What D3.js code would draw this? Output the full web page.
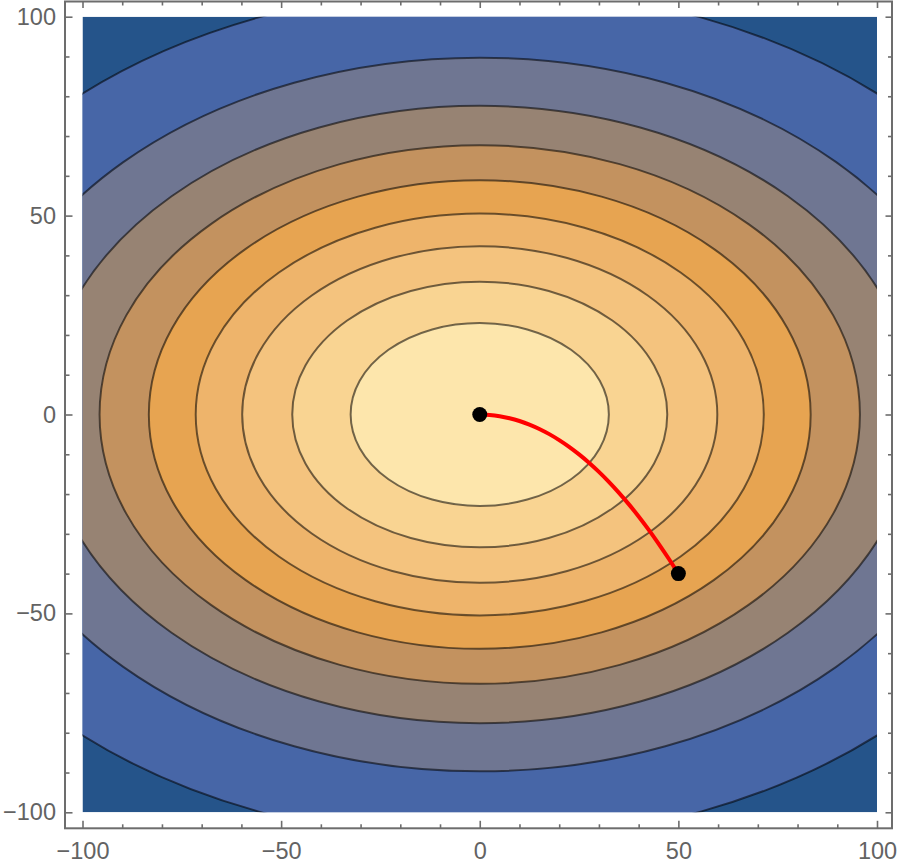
<!DOCTYPE html>
<html><head><meta charset="utf-8">
<script src="https://cdn.jsdelivr.net/npm/d3@7"></script>
<style>body{margin:0;background:#fff} svg{display:block}</style>
</head><body>
<svg id="c" width="900" height="868"></svg>
<script>
// Contour levels (values of the field), outermost first
const contourLevels = [0.1, 0.2, 0.3, 0.4, 0.5, 0.6, 0.7, 0.8, 0.9];
// Semi-axes (data units) of each elliptical contour
const semiAxisX = [151.7, 126.9, 109.7, 95.7, 83.3, 71.5, 59.8, 47.2, 32.5];
const semiAxisY = [107.3, 89.7, 77.6, 67.7, 58.9, 50.5, 42.3, 33.4, 23.0];
// Band fill colors, lowest band first
const bandColors = ["#25548a", "#4766a7", "#6f7692", "#978373", "#c3925f",
                    "#e7a451", "#eeb46b", "#f4c37e", "#f9d492", "#fde6ac"];
// Red gradient path
const pathX = [50, 47.5, 45, 42.5, 40, 37.5, 35, 32.5, 30, 27.5, 25, 22.5, 20, 17.5, 15, 12.5, 10, 7.5, 5, 2.5, 0];
const pathY = [-40, -36.1, -32.4, -28.9, -25.6, -22.5, -19.6, -16.9, -14.4, -12.1, -10, -8.1, -6.4, -4.9, -3.6, -2.5, -1.6, -0.9, -0.4, -0.1, 0];
// End points
const pointX = [0, 50];
const pointY = [0, -40];
// Ticks
const majorTicks = [-100, -50, 0, 50, 100];
const minorTicks = [-90,-80,-70,-60,-40,-30,-20,-10,10,20,30,40,60,70,80,90];
const xDomain = [-100, 100];
const yDomain = [-100, 100];

const svg = d3.select("#c");
const x = d3.scaleLinear().domain(xDomain).range([82.5, 877]);
const y = d3.scaleLinear().domain(yDomain).range([812.3, 16.7]);

svg.append("defs").append("clipPath").attr("id", "plotclip")
  .append("rect")
  .attr("x", x(xDomain[0])).attr("y", y(yDomain[1]))
  .attr("width", x(xDomain[1]) - x(xDomain[0]))
  .attr("height", y(yDomain[0]) - y(yDomain[1]));

const g = svg.append("g").attr("clip-path", "url(#plotclip)");
g.append("rect")
  .attr("x", x(xDomain[0])).attr("y", y(yDomain[1]))
  .attr("width", x(xDomain[1]) - x(xDomain[0]))
  .attr("height", y(yDomain[0]) - y(yDomain[1]))
  .attr("fill", bandColors[0]);

g.selectAll("ellipse.band").data(contourLevels).join("ellipse")
  .attr("class", "band")
  .attr("cx", x(0)).attr("cy", y(0))
  .attr("rx", (d, i) => x(semiAxisX[i]) - x(0))
  .attr("ry", (d, i) => y(0) - y(semiAxisY[i]))
  .attr("fill", (d, i) => bandColors[i + 1])
  .attr("stroke", "rgba(0,0,0,0.55)")
  .attr("stroke-width", 2);

// gradient path
const line = d3.line().x(d => x(d[0])).y(d => y(d[1])).curve(d3.curveBasis);
svg.append("path")
  .datum(pathX.map((v, i) => [v, pathY[i]]))
  .attr("d", line)
  .attr("fill", "none")
  .attr("stroke", "#ff0000")
  .attr("stroke-width", 4)
  .attr("stroke-linecap", "round");

svg.selectAll("circle.pt").data(pointX).join("circle")
  .attr("class", "pt")
  .attr("cx", d => x(d))
  .attr("cy", (d, i) => y(pointY[i]))
  .attr("r", 7.5)
  .attr("fill", "#000");

// Frame
const fL = 65, fR = 892, fT = 1.5, fB = 828.3;
const frameColor = "#6d6d6d";
svg.append("rect").attr("x", fL).attr("y", fT).attr("width", fR - fL).attr("height", fB - fT)
  .attr("fill", "none").attr("stroke", frameColor).attr("stroke-width", 2);

const fmt = d3.format("d");
function styleAxis(sel) {
  sel.select(".domain").remove();
  sel.selectAll("line").attr("stroke", frameColor).attr("stroke-width", 1.6);
  sel.selectAll("text").attr("fill", "#636363")
    .style("font-family", "'Liberation Sans', Arial, sans-serif")
    .style("font-size", "23.5px");
}
// bottom
svg.append("g").attr("transform", `translate(0,${fB})`)
  .call(d3.axisBottom(x).tickValues(majorTicks).tickSize(-7.5).tickPadding(14.5).tickFormat(fmt)).call(styleAxis);
svg.append("g").attr("transform", `translate(0,${fB})`)
  .call(d3.axisBottom(x).tickValues(minorTicks).tickSize(-4).tickFormat("")).call(styleAxis);
// left
svg.append("g").attr("transform", `translate(${fL},0)`)
  .call(d3.axisLeft(y).tickValues(majorTicks).tickSize(-7.5).tickPadding(9).tickFormat(fmt)).call(styleAxis);
svg.append("g").attr("transform", `translate(${fL},0)`)
  .call(d3.axisLeft(y).tickValues(minorTicks).tickSize(-4.5).tickFormat("")).call(styleAxis);
// top
svg.append("g").attr("transform", `translate(0,${fT})`)
  .call(d3.axisTop(x).tickValues(majorTicks).tickSize(-6.5).tickFormat("")).call(styleAxis);
svg.append("g").attr("transform", `translate(0,${fT})`)
  .call(d3.axisTop(x).tickValues(minorTicks).tickSize(-4).tickFormat("")).call(styleAxis);
// right
svg.append("g").attr("transform", `translate(${fR},0)`)
  .call(d3.axisRight(y).tickValues(majorTicks).tickSize(-6.5).tickFormat("")).call(styleAxis);
svg.append("g").attr("transform", `translate(${fR},0)`)
  .call(d3.axisRight(y).tickValues(minorTicks).tickSize(-4).tickFormat("")).call(styleAxis);
</script>
</body></html>
